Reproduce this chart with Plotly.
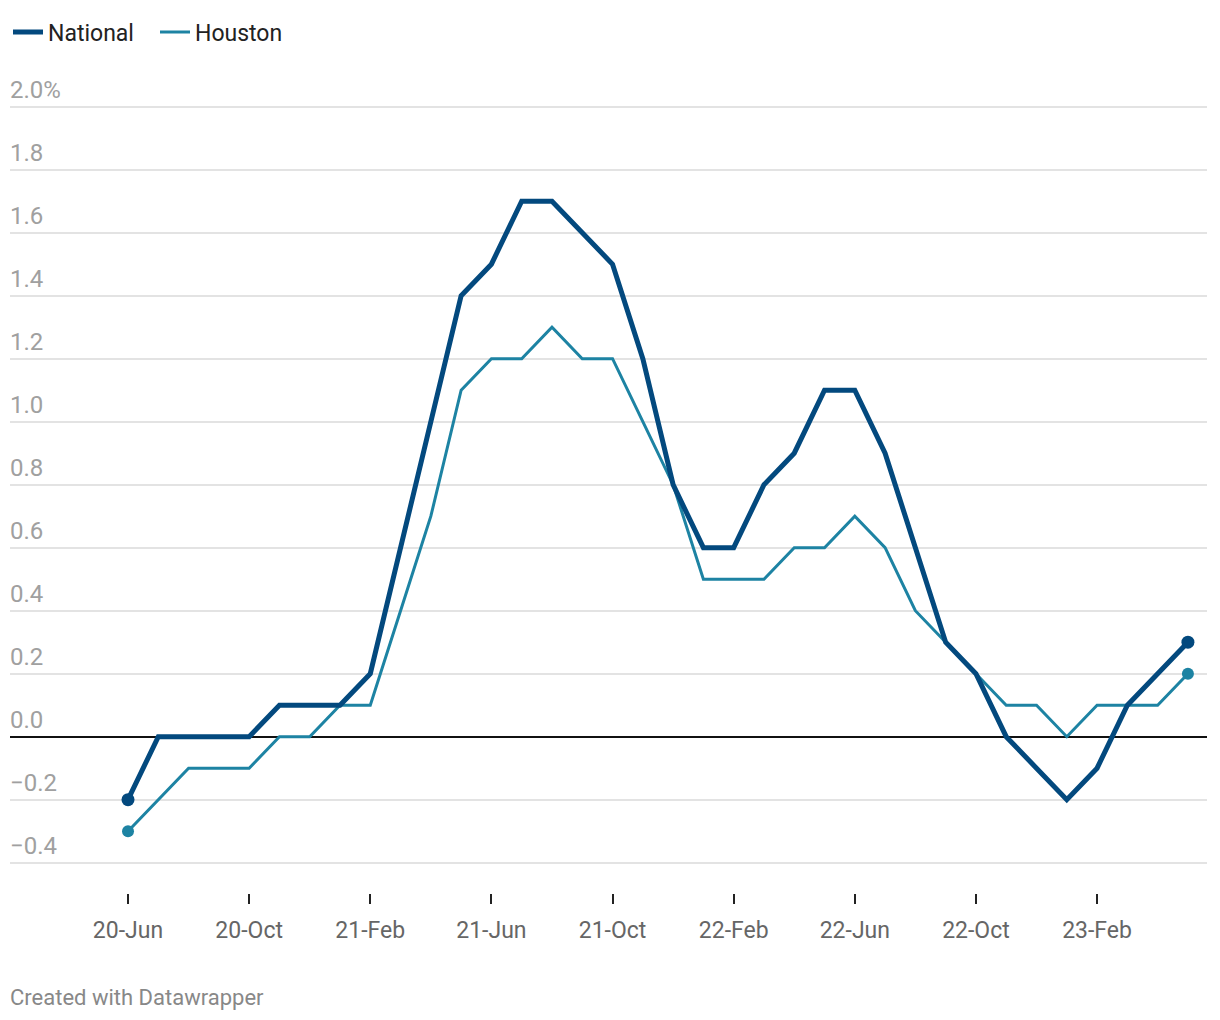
import plotly.graph_objects as go

months = ["20-Jun", "20-Jul", "20-Aug", "20-Sep", "20-Oct", "20-Nov", "20-Dec",
          "21-Jan", "21-Feb", "21-Mar", "21-Apr", "21-May", "21-Jun", "21-Jul",
          "21-Aug", "21-Sep", "21-Oct", "21-Nov", "21-Dec", "22-Jan", "22-Feb",
          "22-Mar", "22-Apr", "22-May", "22-Jun", "22-Jul", "22-Aug", "22-Sep",
          "22-Oct", "22-Nov", "22-Dec", "23-Jan", "23-Feb", "23-Mar", "23-Apr",
          "23-May"]

national = [-0.2, 0.0, 0.0, 0.0, 0.0, 0.1, 0.1, 0.1, 0.2, 0.6, 1.0, 1.4, 1.5, 1.7,
            1.7, 1.6, 1.5, 1.2, 0.8, 0.6, 0.6, 0.8, 0.9, 1.1, 1.1, 0.9, 0.6, 0.3,
            0.2, 0.0, -0.1, -0.2, -0.1, 0.1, 0.2, 0.3]

houston = [-0.3, -0.2, -0.1, -0.1, -0.1, 0.0, 0.0, 0.1, 0.1, 0.4, 0.7, 1.1, 1.2, 1.2,
           1.3, 1.2, 1.2, 1.0, 0.8, 0.5, 0.5, 0.5, 0.6, 0.6, 0.7, 0.6, 0.4, 0.3,
           0.2, 0.1, 0.1, 0.0, 0.1, 0.1, 0.1, 0.2]

x_tick_labels = ["20-Jun", "20-Oct", "21-Feb", "21-Jun", "21-Oct", "22-Feb",
                 "22-Jun", "22-Oct", "23-Feb"]
y_tick_vals = [-0.4, -0.2, 0.0, 0.2, 0.4, 0.6, 0.8, 1.0, 1.2, 1.4, 1.6, 1.8, 2.0]
y_tick_text = ["\u22120.4", "\u22120.2", "0.0", "0.2", "0.4", "0.6", "0.8", "1.0",
               "1.2", "1.4", "1.6", "1.8", "2.0%"]

NAT_COLOR = "#03497e"
HOU_COLOR = "#1d83a3"

W, H = 1212, 1012
PLOT_TOP, PLOT_BOTTOM = 62, 885
PLOT_H = PLOT_BOTTOM - PLOT_TOP

fig = go.Figure()

fig.add_trace(go.Scatter(x=months, y=houston, mode="lines", name="Houston",
                         line=dict(color=HOU_COLOR, width=3)))
fig.add_trace(go.Scatter(x=months, y=national, mode="lines", name="National",
                         line=dict(color=NAT_COLOR, width=5)))
fig.add_trace(go.Scatter(x=[months[0], months[-1]], y=[houston[0], houston[-1]],
                         mode="markers", showlegend=False, hoverinfo="skip",
                         marker=dict(color=HOU_COLOR, size=12)))
fig.add_trace(go.Scatter(x=[months[0], months[-1]], y=[national[0], national[-1]],
                         mode="markers", showlegend=False, hoverinfo="skip",
                         marker=dict(color=NAT_COLOR, size=13)))

fig.add_annotation(text="Created with Datawrapper", xref="paper", yref="paper",
                   x=-0.0015, y=-(989 - PLOT_BOTTOM) / PLOT_H, xanchor="left",
                   yanchor="middle", showarrow=False,
                   font=dict(family="Roboto", size=22, color="#888888"))

fig.update_layout(
    width=W, height=H,
    margin=dict(l=2, r=13, t=PLOT_TOP, b=H - PLOT_BOTTOM),
    paper_bgcolor="white", plot_bgcolor="white",
    font=dict(family="Roboto", color="#222222"),
    showlegend=True,
    legend=dict(orientation="h", x=-0.004, xanchor="left", yref="container",
                y=1 - 24 / H, yanchor="middle", traceorder="reversed",
                font=dict(size=23, color="#222222"), itemwidth=30,
                entrywidth=102, bgcolor="rgba(0,0,0,0)"),
    xaxis=dict(type="category", categoryorder="array", categoryarray=months,
               range=[-3.897, 35.63], showgrid=False, zeroline=False,
               showline=False, tickmode="array", tickvals=x_tick_labels,
               ticktext=x_tick_labels, ticks="outside", ticklen=10, tickwidth=2,
               tickcolor="#222222", tickfont=dict(size=23, color="#666666"),
               ticklabelstandoff=6, fixedrange=True),
    yaxis=dict(range=[-0.4962, 2.1165], tickmode="array", tickvals=y_tick_vals,
               ticktext=y_tick_text, ticklabelposition="inside top",
               ticklabelstandoff=-3,
               showgrid=True, gridcolor="#e3e3e3", gridwidth=1.5,
               zeroline=True, zerolinecolor="#111111", zerolinewidth=2,
               showline=False, ticks="", tickfont=dict(size=24, color="#a0a0a0"),
               fixedrange=True),
)

fig.write_html("out.html")
